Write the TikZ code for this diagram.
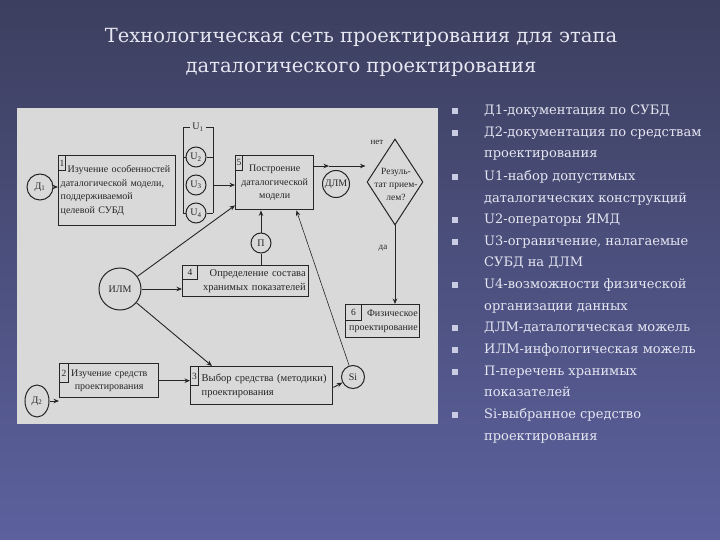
\documentclass[tikz,border=0pt]{standalone}
\usepackage{fontspec}
\setmainfont{Liberation Serif}
\newfontfamily\listfont{DejaVu Serif}
\usetikzlibrary{shapes.geometric,arrows.meta,calc}
\definecolor{bgtop}{HTML}{3C3F5E}
\definecolor{bgbot}{HTML}{5C619E}
\definecolor{paper}{HTML}{D9D9D9}
\definecolor{ink}{HTML}{262626}
\definecolor{txt}{HTML}{E6E7F2}
\definecolor{bul}{HTML}{C9CCE2}
\tikzset{
 box/.style={draw=ink,line width=1.4pt,anchor=north west,inner xsep=2pt,inner ysep=1pt,font=\fontsize{10}{13.5}\selectfont,text=ink},
 cell/.style={draw=ink,line width=0.8pt,anchor=north west,inner sep=0pt,font=\fontsize{9.5}{10}\selectfont,text=ink},
 circ/.style={draw=ink,line width=1pt,circle,inner sep=0pt,font=\fontsize{10}{11}\selectfont,text=ink},
 arr/.style={draw=ink,line width=0.9pt,-{Stealth[length=5.5pt,width=4.5pt]}},
 ln/.style={draw=ink,line width=0.9pt},
 lab/.style={font=\fontsize{9}{10}\selectfont,text=ink,inner sep=0pt},
 item/.style={anchor=north west,inner sep=0pt,align=left,text=txt,font=\listfont\fontsize{13}{21.6}\selectfont},
 bsq/.style={fill=bul,minimum size=5.5pt,inner sep=0pt},
}
\begin{document}
\begin{tikzpicture}[x=1pt,y=-1pt]
\useasboundingbox (0,0) rectangle (720,540);
\shade[top color=bgtop,bottom color=bgbot] (0,0) rectangle (720,540);
\node[text=txt,align=center,font=\listfont\fontsize{19.5}{30}\selectfont] (title) at (361,52)
  {Технологическая сеть проектирования для этапа\\даталогического проектирования};

% diagram panel
\fill[paper] (17,108) rectangle (438,424);
\begin{scope}
\clip (17,108) rectangle (438,424);
% boxes
\node[box,minimum width=117,minimum height=70,text width=113,align=left] (b1) at (58,155)
  {\hspace*{7pt}Изучение особенностей\\даталогической модели,\\поддерживаемой\\целевой СУБД};
\node[cell,minimum width=7,minimum height=15] (n1) at (b1.north west) {1};
\node[box,minimum width=78,minimum height=54,text width=72,align=center] (b5) at (235,155)
  {Построение\\даталогической\\модели};
\node[cell,minimum width=7,minimum height=15] (n5) at (b5.north west) {5};
\node[box,minimum width=126,minimum height=31,text width=120,align=right,font=\fontsize{10.5}{14}\selectfont] (b4) at (182,265)
  {Определение состава\\хранимых показателей};
\node[cell,minimum width=15,minimum height=14] (n4) at (b4.north west) {4};
\node[box,minimum width=74,minimum height=33,text width=70,align=right] (b6) at (345,304)
  {Физическое\\проектирование};
\node[cell,minimum width=16,minimum height=16] (n6) at (b6.north west) {6};
\node[box,minimum width=99,minimum height=34,text width=92,align=center] (b2) at (59,363)
  {Изучение средств\\проектирования};
\node[cell,minimum width=9,minimum height=19] (n2) at (b2.north west) {2};
\node[box,minimum width=142,minimum height=38,text width=138,align=left,font=\fontsize{10.5}{14}\selectfont] (b3) at (190,366)
  {\hspace*{9pt}Выбор средства (методики)\\\hspace*{9pt}проектирования};
\node[cell,minimum width=8,minimum height=19] (n3) at (b3.north west) {3};
% circles
\node[circ,minimum size=26] (d1) at (40,187) {Д\textsubscript{1}};
\node[circ,ellipse,minimum width=24,minimum height=32] (d2) at (37,401) {Д\textsubscript{2}};
\node[circ,minimum size=42] (ilm) at (120,289) {ИЛМ};
\node[circ,minimum size=20] (u2) at (196,157) {U\textsubscript{2}};
\node[circ,minimum size=20] (u3) at (196,185) {U\textsubscript{3}};
\node[circ,minimum size=20] (u4) at (196,213) {U\textsubscript{4}};
\node[circ,minimum size=20] (p) at (261,243) {П};
\node[circ,minimum size=27] (dlm) at (336,184) {ДЛМ};
\node[circ,minimum size=23] (si) at (353,377) {Si};
% U group bracket
\node[lab,fill=paper,inner xsep=2pt,font=\fontsize{10}{11}\selectfont] (u1) at (198,127) {U\textsubscript{1}};
\coordinate (ubl) at (183,213);
\coordinate (ubr) at (213,213);
\draw[ln] (ubl) -- (ubl |- u1) -- (u1.west);
\draw[ln] (u1.east) -- (ubr |- u1) -- (ubr);
\draw[ln] (ubl |- u2) -- (u2);
\draw[ln] (u2) -- (ubr |- u2);
\draw[ln] (ubl) -- (u4);
\draw[ln] (u4) -- (ubr);
\coordinate (uo) at (ubr |- u3);
% decision
\node[draw=ink,line width=1pt,diamond,minimum width=56,minimum height=86,inner sep=0pt] (dm) at (395,182) {};
\node[lab,align=center,font=\fontsize{9.5}{13}\selectfont] (dmt) at (396,184) {Резуль-\\тат прием-\\лем?};
\node[lab] (no) at (377,142) {нет};
\node[lab] (yes) at (383,248) {да};
% connectors
\draw[arr] (d1) -- (d1 -| b1.west);
\draw[arr] (d2) -- (d2 -| b2.west);
\draw[arr] (uo) -- (uo -| b5.west);
\draw[arr] (ilm) -- ($(b5.south west)+(0,-5)$);
\draw[arr] (ilm) -- (ilm -| b4.west);
\draw[arr] (ilm) -- ($(b3.north west)+(22,0)$);
\draw[arr] (b2.east) -- (b2.east -| b3.west);
\draw[arr] ($(b3.south east)+(0,-18)$) -- (si);
\draw[arr,line width=0.6pt] (si) -- ($(b5.south east)+(-18,0)$);
\draw[arr] (p) -- (p |- b5.south);
\draw[ln] (p) -- (p |- b4.north);
\coordinate (o5) at ($(b5.north east)+(0,11)$);
\coordinate (m1) at (329,166);
\draw[arr] (o5) -- (m1);
\draw[arr] (m1) -- ($(m1 -| dm.west)+(-1,0)$);
\draw[arr] (dm.south) -- (dm.south |- b6.north);
\end{scope}

% legend list
\node[bsq] (s1) at (455,111) {};
\node[item] (i1) at (484,104.5) {Д1-документация по СУБД};
\node[bsq] (s2) at (455,133) {};
\node[item] (i2) at (484,126.5) {Д2-документация по средствам\\проектирования};
\node[bsq] (s3) at (455,177) {};
\node[item] (i3) at (484,170.5) {U1-набор допустимых\\даталогических конструкций};
\node[bsq] (s4) at (455,220) {};
\node[item] (i4) at (484,213.5) {U2-операторы ЯМД};
\node[bsq] (s5) at (455,242) {};
\node[item] (i5) at (484,235.5) {U3-ограничение, налагаемые\\СУБД на ДЛМ};
\node[bsq] (s6) at (455,285) {};
\node[item] (i6) at (484,278.5) {U4-возможности физической\\организации данных};
\node[bsq] (s7) at (455,328) {};
\node[item] (i7) at (484,321.5) {ДЛМ-даталогическая можель};
\node[bsq] (s8) at (455,350) {};
\node[item] (i8) at (484,343.5) {ИЛМ-инфологическая можель};
\node[bsq] (s9) at (455,372) {};
\node[item] (i9) at (484,365.5) {П-перечень хранимых\\показателей};
\node[bsq] (s10) at (455,415) {};
\node[item] (i10) at (484,408.5) {Si-выбранное средство\\проектирования};
\end{tikzpicture}
\end{document}
